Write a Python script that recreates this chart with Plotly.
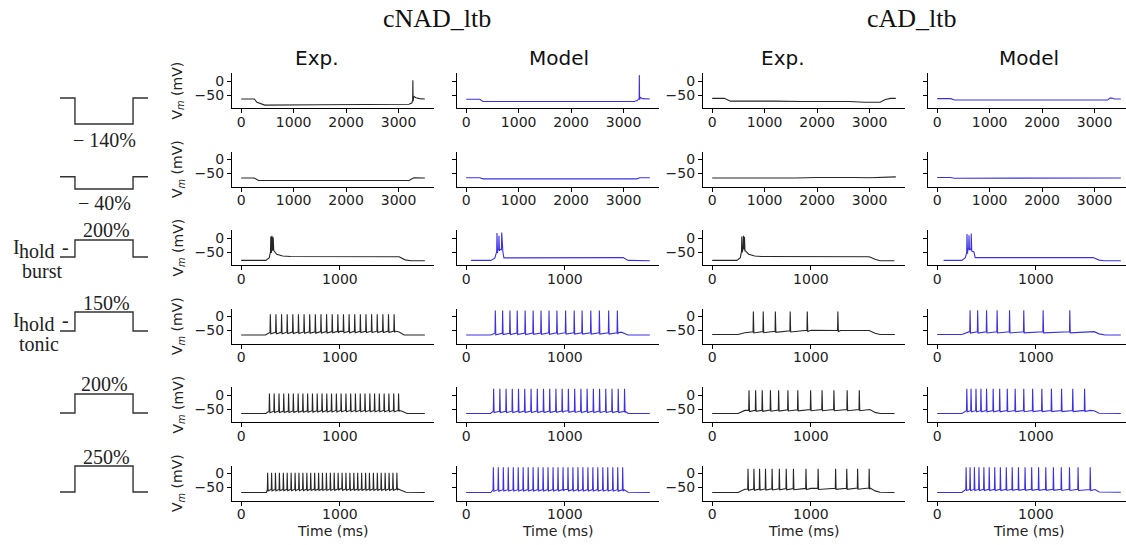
import numpy as np
import plotly.graph_objects as go

W, H = 1126, 545

# ------------------------------------------------------------------ data
group_titles = ["cNAD_ltb", "cAD_ltb"]
col_titles = ["Exp.", "Model", "Exp.", "Model"]
stim_labels = ["\u2212 140%", "\u2212 40%", "200%", "150%", "200%", "250%"]
stim_amp = [-140, -40, 200, 150, 200, 250]
stim_on, stim_off = 0.17, 0.83
long_ticks = [0, 1000, 2000, 3000]
short_ticks = [0, 1000]
v_ticks = [0, -50]
v_ticktext = ["0", "\u221250"]
t_long_end = 3500
t_short_end = 1860

# Row 1 : -140 %
r1c1_t = [0, 250, 300, 450, 1500, 2500, 3200, 3255, 3290, 3330, 3400, 3500]
r1c1_v = [-64, -64, -76, -86, -85, -84, -83, -78, -55, -60, -63, -64]
r1c1_spk, r1c1_pk = [3272], 3
r1c2_t = [0, 260, 320, 3200, 3260, 3320, 3360, 3500]
r1c2_v = [-65, -65, -73, -73, -70, -58, -63, -64]
r1c2_spk, r1c2_pk = [3300], 21
r1c3_t = [0, 230, 350, 700, 1200, 1700, 2100, 2600, 2900, 3200, 3300, 3400, 3500]
r1c3_v = [-62, -62, -72, -73, -72, -73, -72, -73, -76, -76, -66, -62, -62]
r1c3_spk, r1c3_pk = [], 0
r1c4_t = [0, 260, 330, 3250, 3290, 3330, 3380, 3500]
r1c4_v = [-63, -63, -68, -68, -61, -61, -64, -64]
r1c4_spk, r1c4_pk = [], 0

# Row 2 : -40 %
r2c1_t = [0, 250, 330, 3200, 3290, 3500]
r2c1_v = [-66, -66, -75, -75, -65, -66]
r2c2_t = [0, 260, 320, 3250, 3310, 3500]
r2c2_v = [-65, -65, -69, -69, -65, -65]
r2c3_t = [0, 500, 1000, 1300, 1600, 2000, 2300, 2700, 3000, 3300, 3500]
r2c3_v = [-66, -66, -67, -65, -66, -64, -63, -64, -65, -64, -62]
r2c4_t = [0, 250, 330, 3250, 3320, 3500]
r2c4_v = [-64, -64, -67, -67, -66, -66]

# Row 3 : 200 % burst
r3c1_t = [0, 250, 285, 298, 318, 330, 360, 420, 500, 1000, 1600, 1660, 1720, 1860]
r3c1_v = [-80, -80, -70, -50, -35, -45, -58, -64, -66, -67, -67, -78, -81, -81]
r3c1_spk, r3c1_pk = [300, 312, 324], [5, 8, 3]
r3c2_t = [50, 250, 290, 305, 322, 340, 352, 372, 382, 1000, 1590, 1640, 1700, 1860]
r3c2_v = [-80, -80, -72, -55, -40, -42, -40, -50, -71, -70, -70, -80, -81, -81]
r3c2_spk, r3c2_pk = [312, 332, 360], [18, 8, 20]
r3c3_t = [0, 250, 285, 298, 312, 335, 370, 430, 500, 1000, 1590, 1650, 1700, 1845]
r3c3_v = [-80, -80, -70, -50, -35, -45, -58, -64, -66, -67, -67, -76, -81, -81]
r3c3_spk, r3c3_pk = [300, 317, 327], [5, 8, 4]
r3c4_t = [65, 250, 285, 300, 312, 335, 372, 385, 1000, 1580, 1640, 1690, 1860]
r3c4_v = [-80, -80, -70, -55, -38, -40, -50, -70, -70, -70, -79, -81, -81]
r3c4_spk, r3c4_pk = [302, 322, 345], [14, 10, 16]

# Row 4 : 150 % tonic
r4c1_t = [0, 245, 290, 1000, 1560, 1600, 1650, 1860]
r4c1_v = [-66, -66, -57, -53, -52, -55, -66, -66]
r4c1_spk = [295, 352, 409, 466, 523, 580, 637, 694, 751, 808, 865, 922, 979, 1036,
            1093, 1150, 1207, 1264, 1321, 1378, 1435, 1492, 1549]
r4c1_pk = 8
r4c2_t = [0, 250, 290, 1000, 1540, 1570, 1600, 1640, 1860]
r4c2_v = [-66, -66, -60, -58, -58, -56, -60, -66, -66]
r4c2_spk = [295, 369, 443, 517, 597, 678, 758, 839, 919, 1007, 1094, 1174, 1262, 1349, 1443, 1531]
r4c2_pk = 21
r4c3_t = [0, 263, 330, 400, 1000, 1300, 1590, 1650, 1700, 1850]
r4c3_v = [-64, -64, -58, -55, -49, -50, -50, -60, -64, -64]
r4c3_spk = [417, 517, 640, 790, 963, 1273]
r4c3_pk = 18
r4c4_t = [0, 250, 320, 1590, 1640, 1700, 1860]
r4c4_v = [-64, -64, -55, -54, -62, -66, -66]
r4c4_spk = [333, 410, 500, 607, 733, 877, 1073, 1343]
r4c4_pk = 22

# Row 5 : 200 %
r5c1_t = [0, 250, 285, 1000, 1600, 1630, 1680, 1860]
r5c1_v = [-66, -66, -58, -55, -55, -58, -66, -66]
r5c1_spk = [286, 334, 383, 431, 480, 528, 577, 625, 673, 722, 770, 819, 867, 915, 964,
            1012, 1061, 1109, 1157, 1206, 1254, 1303, 1351, 1399, 1448, 1496, 1545, 1594]
r5c1_pk = 5
r5c2_t = [0, 245, 275, 1000, 1610, 1640, 1860]
r5c2_v = [-66, -66, -58, -57, -58, -66, -66]
r5c2_spk = [278, 341, 404, 467, 530, 593, 657, 720, 783, 846, 909, 972, 1035, 1099,
            1162, 1225, 1288, 1351, 1414, 1477, 1540, 1604]
r5c2_pk = 22
r5c3_t = [0, 263, 330, 1000, 1597, 1650, 1700, 1847]
r5c3_v = [-66, -66, -55, -52, -52, -62, -66, -66]
r5c3_spk = [373, 440, 507, 590, 673, 767, 867, 997, 1113, 1233, 1367, 1490]
r5c3_pk = 17
r5c4_t = [0, 250, 300, 1550, 1590, 1640, 1860]
r5c4_v = [-66, -66, -56, -55, -56, -65, -66]
r5c4_spk = [300, 343, 393, 443, 500, 567, 633, 710, 790, 877, 967, 1060, 1157, 1260, 1373, 1493]
r5c4_pk = 22

# Row 6 : 250 %
r6c1_t = [0, 255, 268, 1000, 1590, 1620, 1670, 1860]
r6c1_v = [-68, -68, -57, -55, -55, -60, -67, -68]
r6c1_spk = [268, 308, 347, 387, 427, 466, 506, 546, 585, 625, 665, 704, 744, 784, 823, 863,
            903, 942, 982, 1022, 1061, 1101, 1141, 1180, 1220, 1260, 1299, 1339, 1379, 1418,
            1458, 1498, 1537, 1577]
r6c1_pk = 3
r6c2_t = [0, 250, 272, 1000, 1600, 1640, 1860]
r6c2_v = [-68, -68, -58, -57, -58, -67, -68]
r6c2_spk = [275, 325, 376, 426, 477, 527, 577, 628, 678, 729, 779, 829, 880, 930, 981, 1031,
            1081, 1132, 1182, 1233, 1283, 1333, 1384, 1434, 1485, 1535, 1585]
r6c2_pk = 22
r6c3_t = [0, 263, 330, 1000, 1600, 1650, 1700, 1847]
r6c3_v = [-68, -68, -56, -53, -52, -62, -67, -68]
r6c3_spk = [363, 423, 480, 540, 607, 680, 750, 823, 950, 1073, 1250, 1363, 1473, 1590]
r6c3_pk = 17
r6c4_t = [0, 250, 293, 1000, 1600, 1640, 1860]
r6c4_v = [-68, -68, -57, -56, -57, -66, -67]
r6c4_spk = [293, 333, 377, 423, 473, 527, 583, 640, 700, 760, 823, 890, 957, 1027,
            1100, 1177, 1257, 1340, 1427, 1550]
r6c4_pk = 22

panels = [
    [(r1c1_t, r1c1_v, r1c1_spk, r1c1_pk), (r1c2_t, r1c2_v, r1c2_spk, r1c2_pk),
     (r1c3_t, r1c3_v, r1c3_spk, r1c3_pk), (r1c4_t, r1c4_v, r1c4_spk, r1c4_pk)],
    [(r2c1_t, r2c1_v, [], 0), (r2c2_t, r2c2_v, [], 0),
     (r2c3_t, r2c3_v, [], 0), (r2c4_t, r2c4_v, [], 0)],
    [(r3c1_t, r3c1_v, r3c1_spk, r3c1_pk), (r3c2_t, r3c2_v, r3c2_spk, r3c2_pk),
     (r3c3_t, r3c3_v, r3c3_spk, r3c3_pk), (r3c4_t, r3c4_v, r3c4_spk, r3c4_pk)],
    [(r4c1_t, r4c1_v, r4c1_spk, r4c1_pk), (r4c2_t, r4c2_v, r4c2_spk, r4c2_pk),
     (r4c3_t, r4c3_v, r4c3_spk, r4c3_pk), (r4c4_t, r4c4_v, r4c4_spk, r4c4_pk)],
    [(r5c1_t, r5c1_v, r5c1_spk, r5c1_pk), (r5c2_t, r5c2_v, r5c2_spk, r5c2_pk),
     (r5c3_t, r5c3_v, r5c3_spk, r5c3_pk), (r5c4_t, r5c4_v, r5c4_spk, r5c4_pk)],
    [(r6c1_t, r6c1_v, r6c1_spk, r6c1_pk), (r6c2_t, r6c2_v, r6c2_spk, r6c2_pk),
     (r6c3_t, r6c3_v, r6c3_spk, r6c3_pk), (r6c4_t, r6c4_v, r6c4_spk, r6c4_pk)],
]

# ------------------------------------------------------------------ styling / layout
EXP_COLOR = "#262626"
MOD_COLOR = "#3b30e3"
SANS = "DejaVu Sans"
SERIF = "Liberation Serif"
col_px = [(232, 434), (457, 659), (703, 905), (928, 1130)]
row_top_px = [73, 151.5, 230, 308.5, 387, 465.5]
ROW_H = 35
Y_RANGE = [-96.4, 28.6]
stim_x_px = (60, 148)
stim_base_px = [98, 176.7, 257, 331, 413, 492]
stim_h_px = [26, 12.3, 17, 19, 19, 26]
col_title_x = [317, 559, 783, 1029]
group_title_x = [437, 912]


def build_trace(bt, bv, spikes, peak, ahp=5.0):
    bt = [float(t) for t in bt]
    bv = [float(v) for v in bv]
    pts = list(zip(bt, bv))
    peaks = peak if isinstance(peak, (list, tuple)) else [peak] * len(spikes)
    for ts, pk in zip(spikes, peaks):
        b = float(np.interp(ts, bt, bv))
        pts = [(t, v) for t, v in pts if not (ts - 3 < t < ts + 5)]
        pts += [(ts - 3, b), (ts, pk), (ts + 5, b - ahp)]
    pts.sort()
    return [p[0] for p in pts], [p[1] for p in pts]


def xd(px):
    return px / W


def yd(px):
    return 1 - px / H


fig = go.Figure()
layout = dict(width=W, height=H, margin=dict(l=0, r=0, t=0, b=0),
              paper_bgcolor="white", plot_bgcolor="white", showlegend=False)
annotations = []


def add_text(x, y, txt, family, size, color="#222", angle=0):
    annotations.append(dict(x=xd(x), y=yd(y), xref="paper", yref="paper", text=txt,
                            textangle=angle, showarrow=False,
                            font=dict(family=family, size=size, color=color),
                            xanchor="center", yanchor="middle"))


for r in range(6):
    long_row = r < 2
    t_end = t_long_end if long_row else t_short_end
    r0, r1 = -0.05 * t_end, 1.05 * t_end
    for c in range(4):
        k = r * 4 + c + 1
        sfx = "" if k == 1 else str(k)
        bt, bv, spk, pk = panels[r][c]
        ahp = 4 if c in (2, 3) else 5
        tx, vy = build_trace(bt, bv, spk, pk, ahp=ahp)
        color = EXP_COLOR if c % 2 == 0 else MOD_COLOR
        fig.add_trace(go.Scatter(x=tx, y=vy, mode="lines",
                                 line=dict(color=color, width=1.1),
                                 xaxis="x" + sfx, yaxis="y" + sfx, hoverinfo="skip"))
        x0, x1 = col_px[c]
        x1c = min(x1, W)
        rr1 = r0 + (x1c - x0) / (x1 - x0) * (r1 - r0)
        top = row_top_px[r]
        layout["xaxis" + sfx] = dict(
            domain=[xd(x0), xd(x1c)], range=[r0, rr1], anchor="y" + sfx,
            tickvals=long_ticks if long_row else short_ticks,
            ticks="outside", ticklen=4, tickwidth=1, tickcolor="black",
            ticklabelstandoff=-3,
            showline=True, linecolor="black", linewidth=1.2,
            showgrid=False, zeroline=False,
            tickfont=dict(family=SANS, size=14, color="#222"))
        layout["yaxis" + sfx] = dict(
            domain=[yd(top + ROW_H), yd(top)], range=Y_RANGE, anchor="x" + sfx,
            tickvals=v_ticks, ticktext=v_ticktext,
            ticks="outside", ticklen=4, tickwidth=1, tickcolor="black",
            showline=True, linecolor="black", linewidth=1.2,
            showgrid=False, zeroline=False, showticklabels=(c % 2 == 0),
            tickfont=dict(family=SANS, size=14, color="#222"))
        if c == 0:
            add_text(178, top + ROW_H / 2, "V<sub><i>m</i></sub> (mV)", SANS, 14, angle=-90)
        if r == 5:
            add_text((x0 + x1) / 2 if c < 3 else 1029, 531, "Time (ms)", SANS, 14)

# stimulus schematics
for i, a in enumerate(stim_amp):
    k = 25 + i
    base = stim_base_px[i]
    h = stim_h_px[i]
    if a < 0:
        top_px, bot_px = base, base + h
    else:
        top_px, bot_px = base - h, base
    pad = 3
    lo, hi = min(0, a), max(0, a)
    per_px = (hi - lo) / h
    sx0, sx1 = stim_x_px
    xpad = 2 / (sx1 - sx0)
    fig.add_trace(go.Scatter(
        x=[0, stim_on, stim_on, stim_off, stim_off, 1],
        y=[0, 0, a, a, 0, 0], mode="lines",
        line=dict(color="#333", width=1.4), xaxis="x%d" % k, yaxis="y%d" % k,
        hoverinfo="skip"))
    layout["xaxis%d" % k] = dict(domain=[xd(sx0 - 2), xd(sx1 + 2)], range=[-xpad, 1 + xpad],
                                 visible=False, anchor="y%d" % k)
    layout["yaxis%d" % k] = dict(domain=[yd(bot_px + pad), yd(top_px - pad)],
                                 range=[lo - pad * per_px, hi + pad * per_px],
                                 visible=False, anchor="x%d" % k)

stim_label_pos = [(104, 140), (104, 203), (106, 230), (106, 303), (104, 384), (106, 457)]
for (lx, ly), txt in zip(stim_label_pos, stim_labels):
    add_text(lx, ly, txt, SERIF, 20)

# "I_hold -" labels (subscript drawn at full size, shifted down as in the figure)
for base_y, word, word_x in [(247, "burst", 42), (320, "tonic", 39)]:
    add_text(16, base_y, "I", SERIF, 20)
    add_text(37, base_y + 4, "hold", SERIF, 20)
    add_text(65, base_y, "-", SERIF, 20)
    add_text(word_x, base_y + 24, word, SERIF, 20)

for cx, txt in zip(col_title_x, col_titles):
    add_text(cx, 58, txt, SANS, 20, color="#111")
for gx, txt in zip(group_title_x, group_titles):
    add_text(gx, 18, txt, SERIF, 26, color="#111")

layout["annotations"] = annotations
fig.update_layout(**layout)
fig.write_html("out.html", config={"displayModeBar": False},
               post_script="document.body.style.margin='0px';document.body.style.overflow='hidden';")
